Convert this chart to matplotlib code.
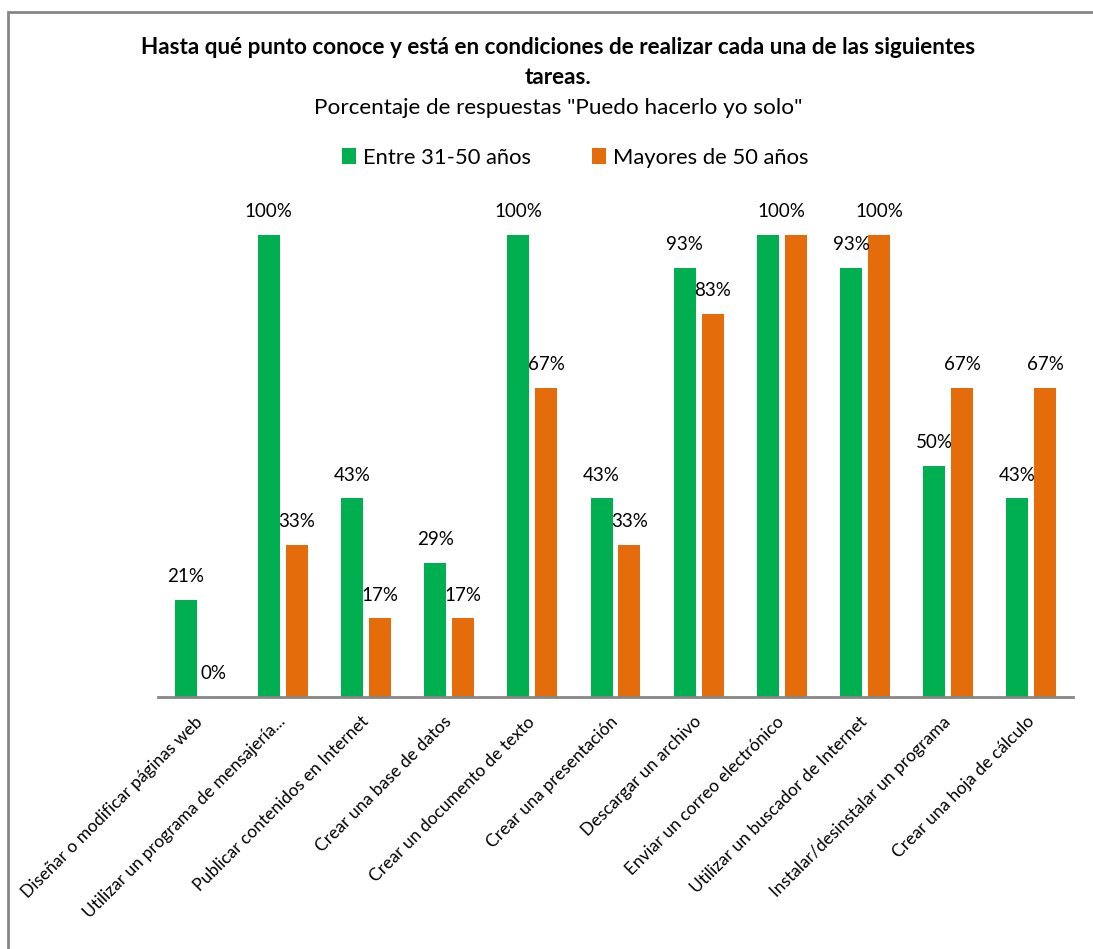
import matplotlib
matplotlib.use('Agg')
import matplotlib.pyplot as plt
import numpy as np
from matplotlib.patches import Rectangle

plt.rcParams['font.family'] = ['Lato', 'DejaVu Sans']

tareas = ['Diseñar o modificar páginas web',
          'Utilizar un programa de mensajería...',
          'Publicar contenidos en Internet',
          'Crear una base de datos',
          'Crear un documento de texto',
          'Crear una presentación',
          'Descargar un archivo',
          'Enviar un correo electrónico',
          'Utilizar un buscador de Internet',
          'Instalar/desinstalar un programa',
          'Crear una hoja de cálculo']
entre_31_50 = [21, 100, 43, 29, 100, 43, 93, 100, 93, 50, 43]
mayores_50 = [0, 33, 17, 17, 67, 33, 83, 100, 100, 67, 67]

verde = '#00B050'
naranja = '#E46C0A'

W, H = 1093, 949
fig = plt.figure(figsize=(W / 100, H / 100), dpi=100)

# outer chart border (cut off at right and bottom)
fig.patches.append(Rectangle((8 / W, -0.1), 1.2, 1 - 12 / H + 0.1,
                             transform=fig.transFigure, fill=False,
                             edgecolor='#868686', lw=2))

ax = fig.add_axes([158 / W, 1 - 697 / H, (1073 - 158) / W, (697 - 189) / H])

x = np.arange(len(tareas))
bw = 0.264
off = 0.168
ax.bar(x - off, np.array(entre_31_50) / 100, bw, color=verde, label='Entre 31-50 años')
ax.bar(x + off, np.array(mayores_50) / 100, bw, color=naranja, label='Mayores de 50 años')

for i in range(len(tareas)):
    if entre_31_50[i] == mayores_50[i]:
        # same value: only one label shown, centred on the group
        ax.text(x[i], entre_31_50[i] / 100 + 0.032, f'{entre_31_50[i]}%',
                ha='center', va='bottom', fontsize=13.5)
        continue
    ax.text(x[i] - off, entre_31_50[i] / 100 + 0.032, f'{entre_31_50[i]}%',
            ha='center', va='bottom', fontsize=13.5)
    ax.text(x[i] + off, mayores_50[i] / 100 + 0.032, f'{mayores_50[i]}%',
            ha='center', va='bottom', fontsize=13.5)

ax.set_xlim(-0.5, len(tareas) - 0.5)
ax.set_ylim(0, 1.1)
ax.set_yticks([])
for s in ['top', 'right', 'left']:
    ax.spines[s].set_visible(False)
ax.spines['bottom'].set_color('#868686')
ax.spines['bottom'].set_linewidth(2)
ax.set_xticks(x)
ax.set_xticklabels(tareas, rotation=45, ha='right', va='center',
                   rotation_mode='anchor', fontsize=12.5)
ax.tick_params(axis='x', length=0, pad=16)

fig.text(558 / W, 1 - 48 / H, 'Hasta qué punto conoce y está en condiciones de realizar cada una de las siguientes',
         ha='center', va='center', fontsize=16.2, fontweight='bold')
fig.text(558 / W, 1 - 78 / H, 'tareas.', ha='center', va='center', fontsize=16.2, fontweight='bold')
fig.text(558 / W, 1 - 108 / H, 'Porcentaje de respuestas "Puedo hacerlo yo solo"',
         ha='center', va='center', fontsize=16.2)

fig.legend(loc='center', bbox_to_anchor=(575 / W, 1 - 158 / H), ncol=2, frameon=False,
           fontsize=15.8, handlelength=0.65, handleheight=0.75, handletextpad=0.3,
           columnspacing=2.8)

fig.savefig('out.png', dpi=100)
